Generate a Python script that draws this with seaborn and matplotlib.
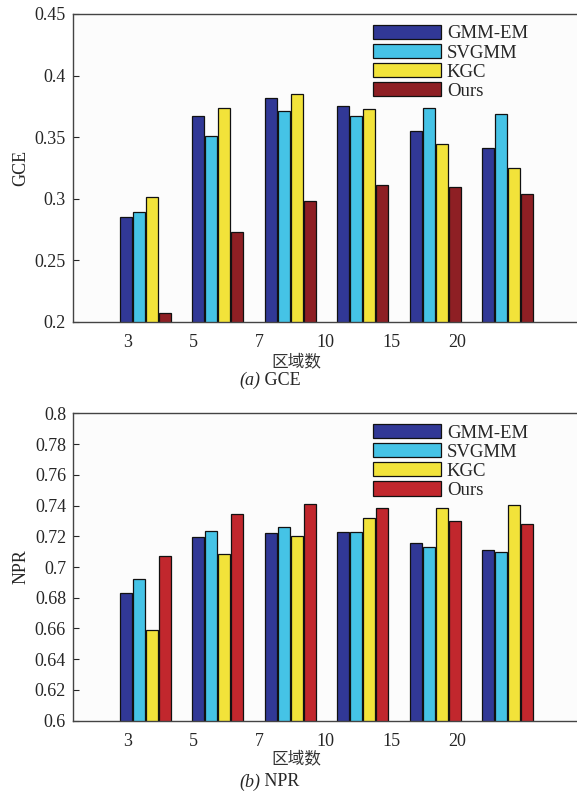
import numpy as np
import pandas as pd
import matplotlib
matplotlib.use("Agg")
import matplotlib.pyplot as plt
import seaborn as sns

# region counts and methods
regions = ["3", "5", "7", "10", "15", "20"]
methods = ["GMM-EM", "SVGMM", "KGC", "Ours"]

# GCE values
gce_gmm = [0.285, 0.3675, 0.382, 0.375, 0.355, 0.341]
gce_svgmm = [0.289, 0.351, 0.3715, 0.3675, 0.374, 0.369]
gce_kgc = [0.301, 0.374, 0.3846, 0.373, 0.344, 0.3245]
gce_ours = [0.207, 0.2725, 0.298, 0.3112, 0.3096, 0.304]

# NPR values
npr_gmm = [0.6833, 0.7197, 0.7223, 0.723, 0.7156, 0.7108]
npr_svgmm = [0.6924, 0.7236, 0.7262, 0.723, 0.7132, 0.7098]
npr_kgc = [0.6592, 0.7085, 0.7204, 0.7317, 0.7382, 0.7401]
npr_ours = [0.7072, 0.7343, 0.7408, 0.7382, 0.7302, 0.7282]

gce_ticklabels = ["0.2", "0.25", "0.3", "0.35", "0.4", "0.45"]
npr_ticklabels = ["0.6", "0.62", "0.64", "0.66", "0.68", "0.7",
                  "0.72", "0.74", "0.76", "0.78", "0.8"]

colors_a = ["#313896", "#45c3e6", "#f2e33a", "#8e1f24"]
colors_b = ["#313896", "#45c3e6", "#f2e33a", "#c1272d"]


def long_table(series):
    rows = []
    for m, vals in zip(methods, series):
        for r, v in zip(regions, vals):
            rows.append({"region": r, "method": m, "value": v})
    return pd.DataFrame(rows)


sns.set_style("ticks")
plt.rcParams["font.family"] = ["Liberation Serif", "Noto Sans CJK SC"]
plt.rcParams["font.size"] = 13

fig = plt.figure(figsize=(5.77, 7.99), dpi=100)
ax1 = fig.add_axes([0.1265, 0.5974, 0.8785, 0.3851])
ax2 = fig.add_axes([0.1265, 0.0980, 0.8785, 0.3847])

panels = [
    (ax1, long_table([gce_gmm, gce_svgmm, gce_kgc, gce_ours]), colors_a,
     "GCE", (0.2, 0.45), np.arange(0.2, 0.451, 0.05), gce_ticklabels,
     -0.131, 0.5244, "(a)", " GCE"),
    (ax2, long_table([npr_gmm, npr_svgmm, npr_kgc, npr_ours]), colors_b,
     "NPR", (0.6, 0.8), np.arange(0.6, 0.801, 0.02), npr_ticklabels,
     -0.125, 0.0213, "(b)", " NPR"),
]

# tick labels sit slightly left of the group centres, as in the source figure
label_pos = np.arange(len(regions)) * 0.909 - 0.24

for ax, df, cols, ylab, ylim, yt, ytl, xl_y, cap_y, cap_a, cap_b in panels:
    sns.barplot(data=df, x="region", y="value", hue="method", order=regions,
                hue_order=methods, palette=cols, width=0.72, gap=0.08,
                edgecolor="#111111", linewidth=0.9, saturation=1, ax=ax)
    ax.set_facecolor("#fcfcfc")
    ax.set_xlim(-1, 6)
    ax.set_ylim(*ylim)
    ax.set_yticks(yt, ytl)
    ax.set_xticks(label_pos, regions)
    ax.set_xticks(np.arange(len(regions)), minor=True)
    ax.tick_params(axis="x", which="major", length=0, pad=9, labelsize=13)
    ax.tick_params(axis="x", which="minor", direction="in", length=3, width=2, color="black")
    ax.tick_params(axis="y", direction="in", length=4, labelsize=13, pad=5)
    for s in ax.spines.values():
        s.set_color("#444444")
        s.set_linewidth(1.0)
    ax.set_ylabel(ylab, fontsize=13, labelpad=4)
    ax.set_xlabel("区域数", fontsize=12, family=["Noto Sans CJK SC"], color="#333333")
    ax.xaxis.set_label_coords(0.44, xl_y)
    ax.xaxis.label.set_va("center")
    ax.legend(loc="upper left", bbox_to_anchor=(0.574, 0.995), frameon=False,
              handlelength=3.6, handleheight=0.78, labelspacing=0.08,
              handletextpad=0.32, borderpad=0, fontsize=13.5)
    fig.text(0.4506, cap_y, cap_a, ha="right", va="center", style="italic", fontsize=13)
    fig.text(0.4506, cap_y, cap_b, ha="left", va="center", fontsize=13)

fig.savefig("out.png", dpi=100)
